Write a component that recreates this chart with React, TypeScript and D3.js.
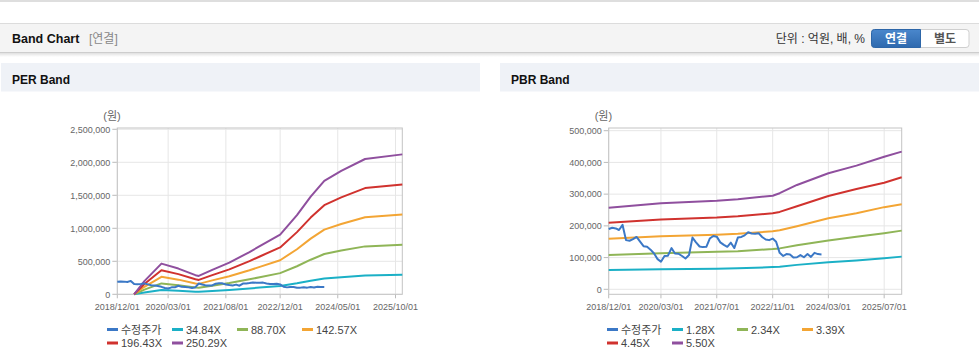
import React from 'react';
import * as d3 from 'd3';

const parse = d3.timeParse('%Y/%m/%d');

// 수정주가 (천원), monthly from 2018/12
const PRICE_START = '2018/12/01';
const PRICE_K = [190,194,192,187,203,155,153,158,165,150,136,134,125,113,95,87,105,106,130,113,112,105,97,108,163,148,135,133,134,160,168,166,148,140,134,147,130,163,165,170,180,176,175,177,165,157,155,160,150,115,105,111,110,100,101,108,101,111,102,115,111,110];

// PER band (천원)
const PER_LABELS = ['수정주가', '34.84X', '88.70X', '142.57X', '196.43X', '250.29X'];
const PER_DATES = ['2019/05/01','2019/08/01','2020/01/01','2020/06/01','2020/11/01','2020/12/01','2021/04/01','2021/09/01','2022/03/01','2022/06/01','2022/12/01','2023/05/01','2023/09/01','2024/01/01','2024/06/01','2025/01/01','2025/12/01'];
const PER_1 = [0,28,65,54,40,39,51,67,89,102,126,167,206,239,260,285,295];
const PER_2 = [0,71,165,138,103,99,131,170,227,259,321,425,524,610,663,726,751];
const PER_3 = [0,114,265,222,165,158,211,273,365,416,516,683,843,980,1065,1168,1208];
const PER_4 = [0,157,365,306,228,218,290,377,502,573,710,942,1162,1350,1468,1609,1664];
const PER_5 = [0,200,465,390,290,278,370,480,640,730,905,1200,1480,1720,1870,2050,2120];
const PER_Y_TICKS = [0, 500000, 1000000, 1500000, 2000000, 2500000];
const PER_X_TICKS = ['2018/12/01','2020/03/01','2021/08/01','2022/12/01','2024/05/01','2025/10/01'];

// PBR band (천원)
const PBR_LABELS = ['수정주가', '1.28X', '2.34X', '3.39X', '4.45X', '5.50X'];
const PBR_DATES = ['2018/12/01','2020/03/01','2021/07/01','2022/01/01','2022/11/01','2023/01/01','2023/06/01','2024/03/01','2024/11/01','2025/07/01','2025/12/01'];
const PBR_1 = [61,63,65,66,70,71,77,85,91,98,103];
const PBR_2 = [108,114,118,120,127,129,139,154,166,177,185];
const PBR_3 = [159,167,172,175,183,186,199,224,240,259,268];
const PBR_4 = [210,220,226,230,240,244,262,294,316,336,353];
const PBR_5 = [257,271,279,284,295,303,329,366,390,418,434];
const PBR_Y_TICKS = [0, 100000, 200000, 300000, 400000, 500000];
const PBR_X_TICKS = ['2018/12/01','2020/03/01','2021/07/01','2022/11/01','2024/03/01','2025/07/01'];

const X_DOMAIN = ['2018/12/01', '2025/12/01'];
const COLORS = ['#3b78c6', '#1bb0c6', '#8fb557', '#f3a534', '#d0322e', '#8f4f9e'];

const FONT = '"Liberation Sans", Arial, "Noto Sans CJK KR", sans-serif';

type Pt = { d: Date; v: number };

function priceSeries(): Pt[] {
  const s = parse(PRICE_START)!;
  return PRICE_K.map((v, i) => ({ d: d3.timeMonth.offset(s, i), v: v * 1000 }));
}
function band(dates: string[], vals: number[]): Pt[] {
  return vals.map((v, i) => ({ d: parse(dates[i])!, v: v * 1000 }));
}

type ChartProps = {
  x0: number; x1: number; y0v: number; y1v: number; yTopV: number;
  frameTop: number; frameBottom: number;
  yDomain: [number, number];
  yTicks: number[]; xTicks: string[];
  series: Pt[][]; labels: string[];
  legendX: number;
};

function Chart(p: ChartProps) {
  const x = d3.scaleTime().domain(X_DOMAIN.map((s) => parse(s)!)).range([p.x0, p.x1]);
  const y = d3.scaleLinear().domain(p.yDomain).range([p.y0v, p.y1v]);
  const fmt = d3.format(',');
  const line = d3.line<Pt>().x((d) => x(d.d)).y((d) => y(d.v));
  // draw order: bands first then price on top? price drawn first in legend; draw bands then price
  const order = [1, 2, 3, 4, 5, 0];
  return (
    <g>
      <text x={p.x0 - 14} y={120} fontSize={11} fill="#666" fontFamily={FONT}>(원)</text>
      {p.yTicks.map((t) => (
        <g key={t}>
          <line x1={p.x0} x2={p.x1} y1={y(t)} y2={y(t)} stroke="#e6e6e6" />
          <line x1={p.x0 - 5} x2={p.x0} y1={y(t)} y2={y(t)} stroke="#bbb" />
          <text x={p.x0 - 7} y={y(t) + 3.2} fontSize={9} fill="#666" textAnchor="end" fontFamily={FONT}>{fmt(t)}</text>
        </g>
      ))}
      {p.xTicks.map((s) => {
        const xx = x(parse(s)!);
        return (
          <g key={s}>
            <line x1={xx} x2={xx} y1={p.frameTop} y2={p.frameBottom} stroke="#e6e6e6" />
            <line x1={xx} x2={xx} y1={p.frameBottom} y2={p.frameBottom + 4} stroke="#bbb" />
            <text x={xx} y={309.5} fontSize={9} fill="#666" textAnchor="middle" fontFamily={FONT}>{s}</text>
          </g>
        );
      })}
      <rect x={p.x0} y={p.frameTop} width={p.x1 - p.x0} height={p.frameBottom - p.frameTop} fill="none" stroke="#c4c4c4" />
      {order.map((i) => (
        <path key={i} d={line(p.series[i]) || ''} fill="none" stroke={COLORS[i]} strokeWidth={2} strokeLinejoin="round" />
      ))}
      {p.labels.map((l, i) => {
        const col = i % 4;
        const row = Math.floor(i / 4);
        const lx = p.legendX + col * 65;
        const ly = 329.5 + row * 13.5;
        return (
          <g key={l}>
            <line x1={lx} x2={lx + 11} y1={ly} y2={ly} stroke={COLORS[i]} strokeWidth={3} />
            <text x={lx + 14} y={ly + 4} fontSize={11} fill="#444" fontFamily={FONT}>{l}</text>
          </g>
        );
      })}
    </g>
  );
}

export default function App() {
  const price = priceSeries();
  const perSeries = [price, band(PER_DATES, PER_1), band(PER_DATES, PER_2), band(PER_DATES, PER_3), band(PER_DATES, PER_4), band(PER_DATES, PER_5)];
  const pbrSeries = [price, band(PBR_DATES, PBR_1), band(PBR_DATES, PBR_2), band(PBR_DATES, PBR_3), band(PBR_DATES, PBR_4), band(PBR_DATES, PBR_5)];
  return (
    <div style={{ position: 'absolute', left: 0, top: 0, width: 979, height: 361, background: '#fff' }}>
      <svg width={979} height={361} style={{ display: 'block' }}>
        <defs>
          <linearGradient id="btn" x1="0" y1="0" x2="0" y2="1">
            <stop offset="0" stopColor="#4a87cc" />
            <stop offset="1" stopColor="#2e69ae" />
          </linearGradient>
          <linearGradient id="shadow" x1="0" y1="0" x2="0" y2="1">
            <stop offset="0" stopColor="#000" stopOpacity={0.12} />
            <stop offset="1" stopColor="#000" stopOpacity={0} />
          </linearGradient>
        </defs>
        <line x1={0} x2={979} y1={1} y2={1} stroke="#dedede" strokeWidth={2} />
        {/* Band Chart header */}
        <rect x={0} y={23} width={979} height={30} fill="#f4f4f4" />
        <line x1={0} x2={979} y1={23.5} y2={23.5} stroke="#dcdcdc" />
        <line x1={0} x2={979} y1={52.5} y2={52.5} stroke="#cdcdcd" />
        <rect x={0} y={53} width={979} height={4} fill="url(#shadow)" />
        <text x={12} y={43} fontSize={12.5} fontWeight="bold" fill="#111" fontFamily={FONT}>Band Chart</text>
        <text x={89} y={43} fontSize={12} fill="#888" fontFamily={FONT}>[연결]</text>
        <text x={865} y={43} fontSize={12} fill="#333" textAnchor="end" fontFamily={FONT}>단위 : 억원, 배, %</text>
        <rect x={871.5} y={29.5} width={97.5} height={18} rx={3} fill="#fff" stroke="#cfcfcf" />
        <path d="M874.5,29.5 H920.5 V47.5 H874.5 A3,3 0 0 1 871.5,44.5 V32.5 A3,3 0 0 1 874.5,29.5 Z" fill="url(#btn)" stroke="#2d66a8" />
        <text x={896} y={42.5} fontSize={12} fontWeight="bold" fill="#fff" textAnchor="middle" fontFamily={FONT}>연결</text>
        <text x={945} y={42.5} fontSize={12} fontWeight="bold" fill="#555" textAnchor="middle" fontFamily={FONT}>별도</text>
        {/* panel headers */}
        <rect x={1} y={63} width={479} height={28.5} fill="#eff2f7" />
        <rect x={500} y={63} width={479} height={28.5} fill="#eff2f7" />
        <text x={12} y={84} fontSize={12} fontWeight="bold" fill="#111" fontFamily={FONT}>PER Band</text>
        <text x={511} y={84} fontSize={12} fontWeight="bold" fill="#111" fontFamily={FONT}>PBR Band</text>
        <Chart
          x0={117.3} x1={402.3} y0v={294.3} y1v={129.3} yTopV={2500000}
          frameTop={128} frameBottom={294.3}
          yDomain={[0, 2500000]} yTicks={PER_Y_TICKS} xTicks={PER_X_TICKS}
          series={perSeries} labels={PER_LABELS} legendX={107}
        />
        <Chart
          x0={608.7} x1={901.7} y0v={289.3} y1v={130.7} yTopV={500000}
          frameTop={128} frameBottom={294.3}
          yDomain={[0, 500000]} yTicks={PBR_Y_TICKS} xTicks={PBR_X_TICKS}
          series={pbrSeries} labels={PBR_LABELS} legendX={607}
        />
      </svg>
    </div>
  );
}
